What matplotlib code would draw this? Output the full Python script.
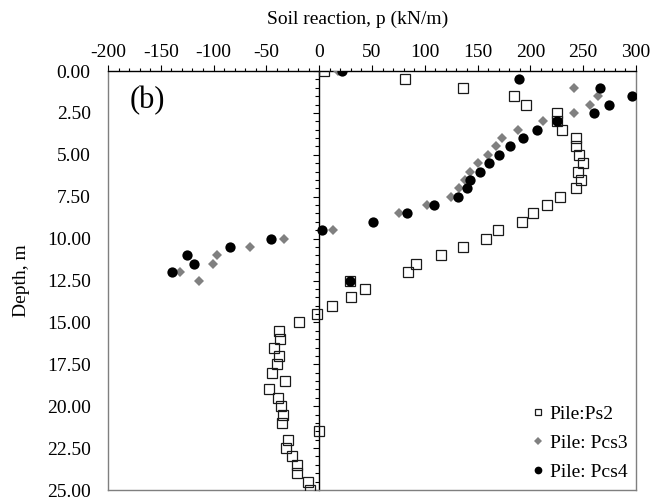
import matplotlib
matplotlib.use("Agg")
import matplotlib.pyplot as plt
from matplotlib.ticker import MultipleLocator, FormatStrFormatter

plt.rcParams['font.family'] = ['Liberation Serif', 'DejaVu Serif']
plt.rcParams['axes.unicode_minus'] = False

# Depth below ground (m) and soil reaction p (kN/m) for each pile
depth_ps2 = [0.0, 0.5, 1.0, 1.5, 2.0, 2.5, 3.0, 3.5, 4.0, 4.5, 5.0, 5.5, 6.0, 6.5,
             7.0, 7.5, 8.0, 8.5, 9.0, 9.5, 10.0, 10.5, 11.0, 11.5, 12.0, 12.5,
             13.0, 13.5, 14.0, 14.5, 15.0, 15.5, 16.0, 16.5, 17.0, 17.5, 18.0,
             18.5, 19.0, 19.5, 20.0, 20.5, 21.0, 21.5, 22.0, 22.5, 23.0, 23.5,
             24.0, 24.5, 25.0]
p_ps2 = [5, 81, 136, 184, 196, 225, 225, 230, 243, 243, 246, 250, 245, 248,
         243, 228, 216, 202, 192, 169, 158, 136, 115, 92, 84, 29,
         43, 30, 12, -2, -19, -38, -37, -43, -38, -40, -45,
         -32, -48, -39, -36, -34, -35, 0, -30, -31, -26, -21,
         -21, -11, -9]

depth_pcs3 = [0.0, 1.0, 1.5, 2.0, 2.5, 3.0, 3.5, 4.0, 4.5, 5.0, 5.5, 6.0, 6.5,
              7.0, 7.5, 8.0, 8.5, 9.5, 10.0, 10.5, 11.0, 11.5, 12.0, 12.5]
p_pcs3 = [18, 241, 264, 256, 241, 212, 188, 173, 167, 160, 150, 143, 138,
          132, 125, 102, 76, 13, -33, -66, -97, -101, -132, -114]

depth_pcs4 = [0.0, 0.5, 1.0, 1.5, 2.0, 2.5, 3.0, 3.5, 4.0, 4.5, 5.0, 5.5, 6.0,
              6.5, 7.0, 7.5, 8.0, 8.5, 9.0, 9.5, 10.0, 10.5, 11.0, 11.5, 12.0,
              12.5]
p_pcs4 = [22, 189, 266, 296, 274, 260, 225, 206, 193, 181, 170, 161, 152,
          143, 140, 131, 109, 83, 51, 3, -46, -84, -125, -119, -139,
          29]

labels = ["Pile:Ps2", "Pile: Pcs3", "Pile: Pcs4"]

FS = 14

fig = plt.figure(figsize=(6.67, 5.0), dpi=100)
rect = [108 / 667, 10 / 500, 528 / 667, 419 / 500]
ax = fig.add_axes(rect)

ax.plot(p_ps2, depth_ps2, linestyle='none', marker='s', ms=6.6,
        markerfacecolor='none', markeredgecolor='#1a1a1a', markeredgewidth=0.9,
        label=labels[0], zorder=3)
ax.plot(p_pcs3, depth_pcs3, linestyle='none', marker='D', ms=5.0,
        color='#808080', markeredgewidth=0, label=labels[1], zorder=4)
ax.plot(p_pcs4, depth_pcs4, linestyle='none', marker='o', ms=7.4,
        color='black', markeredgewidth=0, label=labels[2], zorder=5)

ax.set_xlim(-200, 300)
ax.set_ylim(25, 0)

# horizontal axis along the top
ax.xaxis.set_ticks_position('top')
ax.xaxis.set_major_locator(MultipleLocator(50))
ax.xaxis.set_minor_locator(MultipleLocator(10))
ax.tick_params(axis='x', which='major', direction='out', length=4.5, width=0.8,
               labelsize=FS, pad=3, color='black')
ax.tick_params(axis='x', which='minor', direction='out', length=2.4, width=0.8,
               color='black')
fig.text(358 / 667, 1 - 19 / 500, "Soil reaction, p (kN/m)", fontsize=FS,
         ha='center', va='center')

# depth labels sit at the left edge of the frame
ax.yaxis.set_major_locator(MultipleLocator(2.5))
ax.yaxis.set_major_formatter(FormatStrFormatter('%.2f'))
ax.tick_params(axis='y', which='both', length=0, labelsize=FS, pad=12.5)
ax.set_ylabel("Depth, m", fontsize=FS, labelpad=12)

for side in ('left', 'right', 'bottom'):
    ax.spines[side].set_color('#7f7f7f')
    ax.spines[side].set_linewidth(1.0)
ax.spines['top'].set_color('black')
ax.spines['top'].set_linewidth(1.0)

# vertical axis line through p = 0 with its own tick marks
ax0 = fig.add_axes(rect, frameon=True)
ax0.patch.set_visible(False)
ax0.set_xlim(-200, 300)
ax0.set_ylim(25, 0)
for side in ('right', 'top', 'bottom'):
    ax0.spines[side].set_visible(False)
ax0.spines['left'].set_position(('data', 0))
ax0.spines['left'].set_color('black')
ax0.spines['left'].set_linewidth(1.0)
ax0.set_xticks([])
ax0.yaxis.set_major_locator(MultipleLocator(2.5))
ax0.yaxis.set_minor_locator(MultipleLocator(0.5))
ax0.tick_params(axis='y', which='major', direction='out', length=4.5, width=0.8,
                labelleft=False)
ax0.tick_params(axis='y', which='minor', direction='out', length=3.0, width=0.8)
ax0.set_zorder(ax.get_zorder() - 1)
ax.patch.set_visible(False)
fig.patch.set_facecolor('white')

ax.text(0.075, 0.93, "(b)", transform=ax.transAxes, fontsize=22,
        ha='center', va='center')

leg = ax.legend(loc='lower right', frameon=False, fontsize=FS, markerscale=0.75,
                handlelength=0.6, handletextpad=0.3, labelspacing=0.6,
                borderaxespad=0.25, borderpad=0.2)

fig.savefig("out.png", dpi=100, facecolor='white')
